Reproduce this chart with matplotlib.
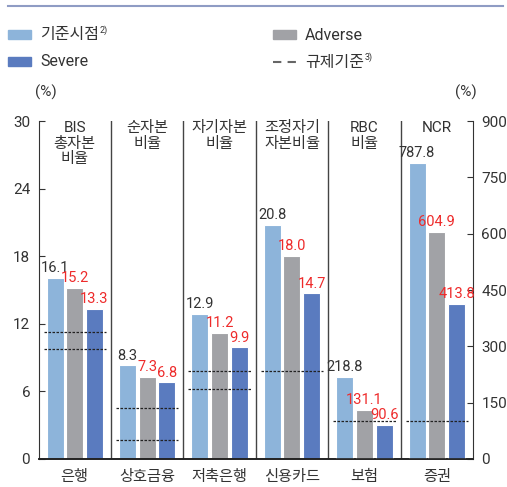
import numpy as np
import matplotlib
matplotlib.use("Agg")
import matplotlib.pyplot as plt
from matplotlib.patches import Rectangle
from matplotlib.lines import Line2D

plt.rcParams['font.family'] = ['Roboto', 'Noto Sans CJK KR', 'DejaVu Sans']

# data
sectors = ['은행', '상호금융', '저축은행', '신용카드', '보험', '증권']
ratio_names = ['BIS\n총자본\n비율', '순자본\n비율', '자기자본\n비율', '조정자기\n자본비율', 'RBC\n비율', 'NCR']
base = [16.1, 8.3, 12.9, 20.8, 218.8, 787.8]
adverse = [15.2, 7.3, 11.2, 18.0, 131.1, 604.9]
severe = [13.3, 6.8, 9.9, 14.7, 90.6, 413.8]
right_axis = [False, False, False, False, True, True]
# regulatory thresholds per sector
reg_levels = [[11.3, 9.8], [4.5, 1.7], [7.8, 6.2], [7.8], [100], [100]]

c_base = '#8db4da'
c_adv = '#a1a2a6'
c_sev = '#5a7bbf'
c_red = '#ee2b2b'
c_txt = '#333333'

fig = plt.figure(figsize=(5.07, 4.87), dpi=100)
ax = fig.add_axes([38.5 / 507, 28 / 487, (473 - 38.5) / 507, (459 - 121) / 487])
ax2 = ax.twinx()

ax.set_xlim(0, 6)
ax.set_ylim(0, 30)
ax2.set_ylim(0, 900)

bw = 0.235
step = 0.272
for i in range(len(sectors)):
    a = ax2 if right_axis[i] else ax
    off = 900 * 0.008 if right_axis[i] else 30 * 0.008
    xc = i + 0.5
    vals = [base[i], adverse[i], severe[i]]
    cols = [c_base, c_adv, c_sev]
    for k, (v, c) in enumerate(zip(vals, cols)):
        x = xc + (k - 1) * step
        a.bar(x, v, width=bw, color=c, edgecolor='white', linewidth=0.8, zorder=2)
        a.text(x, v + off, f'{v:.1f}', ha='center', va='bottom', fontsize=10.5,
               color=c_txt if k == 0 else c_red, zorder=4)
    for lv in reg_levels[i]:
        a.plot([xc - 0.43, xc + 0.43], [lv, lv], color='#222222', lw=0.9,
               dashes=(2, 1.2), zorder=3)
    ax.text(xc, 30.0, ratio_names[i], ha='center', va='top', fontsize=11,
            color=c_txt, linespacing=1.15)

# separators
for s in range(1, 6):
    ax.axvline(s, color='#444444', lw=1, zorder=1)

ax.set_xticks(np.arange(6) + 0.5)
ax.set_xticklabels(sectors, fontsize=11, color=c_txt)
ax.tick_params(axis='x', length=0, pad=8)
ax.set_yticks(np.arange(0, 31, 6))
ax.tick_params(axis='y', direction='in', length=4, pad=6, labelsize=11,
               colors=c_txt)
ax2.set_yticks(np.arange(0, 901, 150))
ax2.tick_params(axis='y', direction='in', length=4, pad=6, labelsize=11,
                colors=c_txt)

for a in (ax, ax2):
    a.spines['top'].set_visible(False)
    a.spines['left'].set_color('#333333')
    a.spines['right'].set_color('#333333')
    a.spines['bottom'].set_color('#222222')
    a.spines['bottom'].set_linewidth(1.2)
ax2.spines['left'].set_visible(False)
ax.spines['right'].set_visible(False)

# top rule
fig.add_artist(Line2D([8 / 507, 503 / 507], [1 - 5.7 / 487, 1 - 5.7 / 487],
                      color='#8f9cc4', lw=1.5))

# legend
def patch(x0, y0, c):
    fig.add_artist(Rectangle((x0 / 507, 1 - (y0 + 8) / 487), 23 / 507, 8 / 487,
                             color=c, transform=fig.transFigure))

def label_sup(x0, y0, txt, sup):
    t = fig.text(x0 / 507, 1 - y0 / 487, txt, fontsize=11.5, va='center', color=c_txt)
    if sup:
        fig.canvas.draw()
        bb = t.get_window_extent()
        fig.text((bb.x1 + 1) / 507, 1 - (y0 - 5) / 487, sup, fontsize=6.5,
                 va='center', color=c_txt)

patch(8, 30.5, c_base)
patch(273, 30.5, c_adv)
patch(8, 57.5, c_sev)
fig.add_artist(Line2D([273 / 507, 296 / 507], [1 - 62 / 487, 1 - 62 / 487],
                      color='#666666', lw=1.5, dashes=(4, 3)))
label_sup(40, 35, '기준시점', '2)')
label_sup(305, 35, 'Adverse', None)
label_sup(40, 62, 'Severe', None)
label_sup(305, 62, '규제기준', '3)')
fig.text(35 / 507, 1 - 92 / 487, '(%)', fontsize=11, va='center', color=c_txt)
fig.text(455 / 507, 1 - 92 / 487, '(%)', fontsize=11, va='center', color=c_txt)

fig.savefig('out.png', dpi=100)
